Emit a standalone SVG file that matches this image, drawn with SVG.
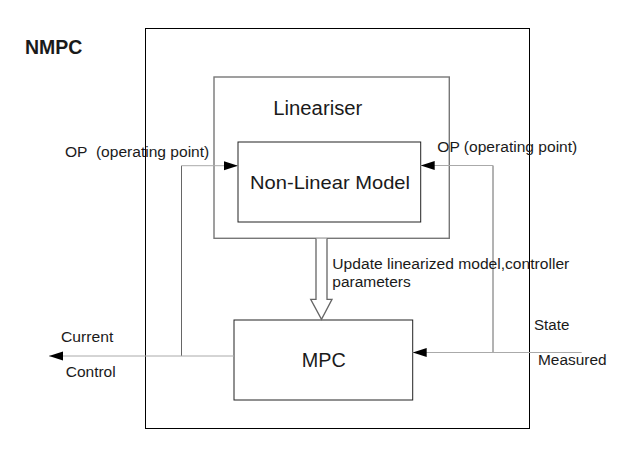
<svg xmlns="http://www.w3.org/2000/svg" width="634" height="468" viewBox="0 0 634 468">
<defs>
<marker id="ah" markerUnits="userSpaceOnUse" markerWidth="15" markerHeight="10" refX="14" refY="4.5" orient="auto">
<path d="M0,0 L14,4.5 L0,9 Z" fill="#000"/>
</marker>
<style>
text{font-family:"Liberation Sans",Arial,sans-serif;fill:#1a1a1a}
.box{fill:#fff}
.lbl{font-size:15.5px}
.fb{fill:none;stroke:#aaa;stroke-width:1}
.fv{fill:none;stroke:#666;stroke-width:1}
</style>
</defs>
<rect width="634" height="468" fill="#fff"/>
<text x="25" y="54.3" font-size="19.5" font-weight="bold" fill="#000">NMPC</text>
<g id="nmpc">
<rect x="145.5" y="28.5" width="384" height="400" fill="none" stroke="#000" stroke-width="1"/>
</g>
<g id="lineariser">
<rect class="box" x="214" y="77" width="235.3" height="161.3" stroke="#777" stroke-width="1.4"/>
<text x="273.3" y="115" font-size="20" textLength="89" lengthAdjust="spacingAndGlyphs">Lineariser</text>
</g>
<g id="nonlinear">
<rect class="box" x="238" y="142" width="182.7" height="80" stroke="#222" stroke-width="1"/>
<text x="250" y="188.5" font-size="19" textLength="160" lengthAdjust="spacingAndGlyphs">Non-Linear Model</text>
</g>
<g id="mpc">
<rect class="box" x="234" y="320" width="178.7" height="80" stroke="#222" stroke-width="1"/>
<text x="301.7" y="366.7" font-size="20" textLength="44" lengthAdjust="spacingAndGlyphs">MPC</text>
</g>
<g id="connectors">
<path class="fv" d="M181.5,356 V165.7"/>
<path class="fb" d="M181.5,165.7 H238" marker-end="url(#ah)"/>
<path class="fb" d="M234,356 H49" marker-end="url(#ah)"/>
<path class="fv" d="M493,352.5 V165.5"/>
<path class="fb" d="M493,165.5 H420.7" marker-end="url(#ah)"/>
<path class="fb" d="M581.7,352.5 H412.7" marker-end="url(#ah)"/>
<path d="M316,238.5 V299.3 H310.7 L321.5,319.3 L332,299.3 H327 V238.5" fill="#fff" stroke="#666" stroke-width="1.3"/>
</g>
<g id="labels">
<text class="lbl" x="65" y="156.7" xml:space="preserve" style="white-space:pre" textLength="144.3" lengthAdjust="spacingAndGlyphs">OP  (operating point)</text>
<text class="lbl" x="437.3" y="151.7" textLength="140" lengthAdjust="spacingAndGlyphs">OP (operating point)</text>
<text class="lbl" x="332.3" y="269" textLength="237" lengthAdjust="spacingAndGlyphs">Update linearized model,controller</text>
<text class="lbl" x="332.3" y="286.7" textLength="78.4" lengthAdjust="spacingAndGlyphs">parameters</text>
<text class="lbl" x="61" y="341.7" textLength="52.3" lengthAdjust="spacingAndGlyphs">Current</text>
<text class="lbl" x="65.7" y="376.7" textLength="50" lengthAdjust="spacingAndGlyphs">Control</text>
<text class="lbl" x="534" y="330" textLength="35.3" lengthAdjust="spacingAndGlyphs">State</text>
<text class="lbl" x="538" y="364.7" textLength="68.7" lengthAdjust="spacingAndGlyphs">Measured</text>
</g>
</svg>
